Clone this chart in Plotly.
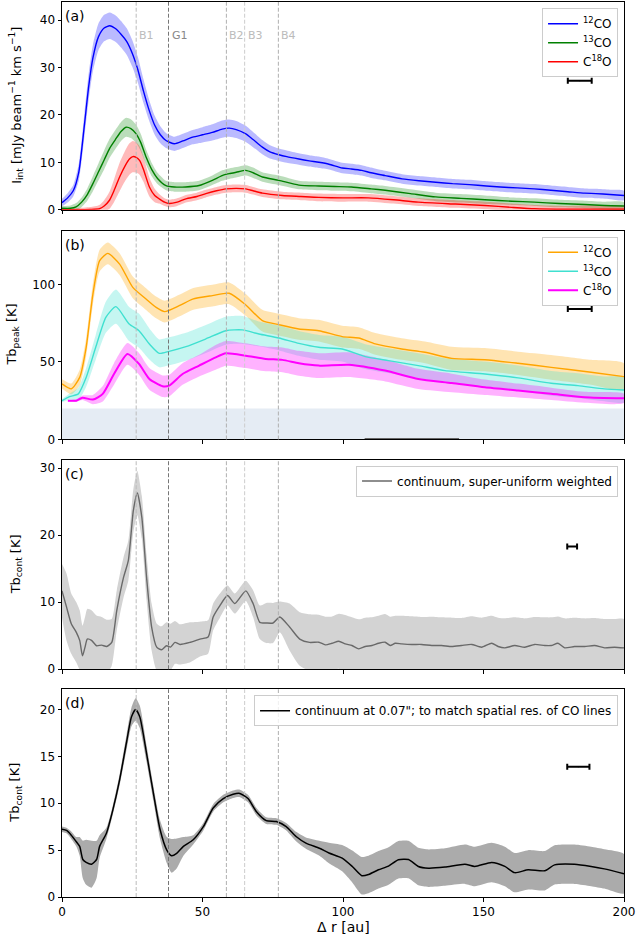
import plotly.graph_objects as go

# ring positions [au]
ring_names = ["B1", "G1", "B2", "B3", "B4"]
ring_r = [26.4, 37.9, 58.5, 65.0, 77.0]
ring_colors = ["#bbbbbb", "#777777", "#b0b0b0", "#cccccc", "#b0b0b0"]

# (a) integrated intensity [mJy/beam km/s]
r_12a = [0, 2, 4, 6, 8, 9.5, 11, 13, 15, 17,
         19, 21, 23, 25, 27, 29, 31, 33, 35, 37,
         40, 43, 46.5, 50, 53.5, 57, 59.5, 62, 65.4, 68,
         71.3, 74, 77.2, 80, 84.3, 88, 91.4, 95, 99.7, 103,
         106.7, 110, 115, 121, 127, 133, 139, 145, 151, 156,
         162, 168, 174, 180, 186, 190, 195, 200]
i_12a = [1.5, 2.5, 4.0, 8, 18, 26, 32, 36.5, 38.3, 38.8,
         38.2, 37, 35.5, 33, 29.5, 25, 21, 17.8, 15.8, 14.6,
         13.9, 14.5, 15.3, 15.8, 16.3, 17.0, 17.2, 16.9, 16.0, 14.8,
         13.2, 12.2, 11.6, 11.2, 10.7, 10.3, 10.0, 9.6, 8.8, 8.6,
         8.3, 7.8, 7.2, 6.5, 6.1, 5.8, 5.5, 5.3, 5.0, 4.8,
         4.6, 4.4, 4.1, 3.8, 3.5, 3.4, 3.2, 3.0]
e_12a = [0.8, 1.0, 1.2, 1.8, 2.5, 2.8, 2.8, 2.8, 2.8, 2.8,
         2.8, 2.8, 2.8, 2.8, 2.7, 2.5, 2.2, 2.0, 1.8, 1.6,
         1.5, 1.5, 1.5, 1.6, 1.7, 1.8, 1.8, 1.8, 1.7, 1.6,
         1.5, 1.4, 1.3, 1.3, 1.2, 1.2, 1.2, 1.1, 1.1, 1.1,
         1.1, 1.1, 1.0, 1.0, 1.0, 1.0, 1.0, 1.0, 1.0, 1.0,
         1.0, 1.0, 1.0, 1.0, 1.0, 1.0, 1.0, 1.0]

r_13a = [0, 3, 5, 7, 9, 11, 13, 15, 17, 19,
         21, 22.8, 24.5, 26.4, 28, 30, 32, 34, 37, 40,
         44, 48.8, 53.5, 57, 59.5, 62, 65.4, 68, 71.3, 77.2,
         84.3, 91.4, 97, 103, 110, 115, 124, 133, 142, 150.5,
         160, 168, 177, 186, 193, 200]
i_13a = [0.3, 0.3, 0.6, 1.6, 3.2, 5.5, 8.0, 10.5, 13.0, 14.8,
         16.5, 17.4, 17.1, 16.0, 14.2, 11.0, 8.4, 6.6, 5.1, 4.8,
         4.8, 5.1, 6.2, 7.2, 7.6, 7.9, 8.3, 7.8, 6.9, 6.2,
         5.2, 5.0, 4.9, 4.8, 4.4, 4.1, 3.4, 2.7, 2.4, 2.1,
         1.8, 1.6, 1.3, 1.1, 0.9, 0.8]
e_13a = [0.5, 0.6, 0.8, 1.0, 1.3, 1.6, 1.8, 2.0, 2.0, 2.0,
         2.0, 2.0, 2.0, 1.9, 1.8, 1.6, 1.4, 1.2, 1.0, 1.0,
         1.0, 1.0, 1.0, 1.1, 1.1, 1.1, 1.1, 1.1, 1.0, 1.0,
         0.9, 0.9, 0.9, 0.9, 0.9, 0.9, 0.9, 0.9, 0.9, 0.9,
         0.8, 0.8, 0.8, 0.8, 0.8, 0.8]

r_18a = [0, 5, 10, 13.3, 15, 16.9, 18.5, 20.5, 22.5, 24,
         25.2, 26.5, 27.6, 29, 31.1, 33, 34.6, 36.5, 38.1, 41,
         44.1, 48, 51.2, 55, 58.3, 62, 65.4, 68, 71.3, 78.4,
         85, 91.4, 100, 109, 118, 126.8, 140, 150.5, 160, 168.2,
         180, 200]
i_18a = [0.0, 0.0, 0.05, 0.2, 0.8, 2.0, 4.0, 6.9, 9.3, 10.7,
         11.2, 11.0, 10.4, 8.5, 4.8, 3.0, 2.3, 1.6, 1.3, 1.6,
         2.3, 2.8, 3.4, 4.0, 4.4, 4.5, 4.4, 4.0, 3.5, 3.0,
         2.8, 2.6, 2.5, 2.5, 2.1, 1.6, 1.2, 0.9, 0.5, 0.2,
         0.1, 0.1]
e_18a = [0.2, 0.3, 0.5, 0.8, 1.2, 1.8, 2.4, 3.0, 3.2, 3.3,
         3.3, 3.2, 3.0, 2.6, 2.0, 1.4, 1.0, 0.8, 0.8, 0.8,
         0.8, 0.8, 0.8, 0.8, 0.8, 0.8, 0.8, 0.8, 0.8, 0.8,
         0.8, 0.8, 0.8, 0.8, 0.8, 0.8, 0.8, 0.8, 0.8, 0.8,
         0.7, 0.6]

# (b) peak brightness temperature [K]
r_12b = [0, 3.3, 6.3, 8.6, 11, 13.4, 16.3, 20.5, 25.2, 29.9,
         33.5, 36.5, 41.7, 46.5, 53.5, 59.5, 65.4, 71.3, 77.2, 84.3,
         91.4, 99.7, 105.6, 111.5, 120.9, 129.2, 138.7, 150.5, 162.3, 174.1,
         188.3, 200]
t_12b = [35.8, 32.6, 40.0, 59.4, 93.7, 115.2, 119.9, 113.0, 98.0, 90.5,
         85.1, 82.4, 86.2, 90.5, 92.7, 94.2, 86.7, 76.6, 74.0, 71.2,
         70.1, 66.3, 65.4, 61.6, 58.3, 56.2, 52.3, 51.4, 49.1, 46.5,
         43.3, 40.5]
e_12b = [3, 3.5, 5, 6, 7, 7, 7, 7, 7, 7,
         7, 7, 7, 7, 7, 7, 7, 7, 7, 7,
         7, 7, 7, 7, 7, 7, 7.5, 7.5, 7.5, 8,
         8, 8.5]

r_13b = [0, 2.7, 5.8, 8.6, 12, 15.6, 19.2, 23.9, 27.4, 31.1,
         34.6, 38.1, 44.1, 51.2, 58.3, 64.2, 70.1, 77.2, 84.3, 91.4,
         99.7, 107.9, 116.2, 126.8, 136.3, 150.5, 162.3, 174.1, 183.6, 193,
         200]
t_13b = [25.0, 27.6, 29.4, 40.0, 59.4, 78.7, 85.6, 74.4, 70.1, 61.5,
         55.5, 56.8, 59.8, 64.8, 70.1, 70.6, 68.0, 65.4, 61.9, 59.4,
         58.3, 53.4, 50.8, 47.6, 44.4, 42.2, 39.7, 36.2, 34.7, 32.6,
         31.9]
e_13b = [1, 2, 4, 6, 8, 10, 11, 11, 11, 10,
         9, 9, 9, 9, 9, 9, 8, 8, 8, 8,
         8, 8, 8, 8, 8, 8, 8, 8, 8, 8,
         8]

r_18b = [2.1, 5, 7.3, 11, 14.5, 18.5, 23.3, 27.4, 31.1, 35.8,
         38.1, 42.9, 48.8, 54.7, 58.3, 65.4, 72.5, 78.4, 84.3, 91.4,
         102.1, 115, 126.8, 138.7, 150.5, 162.3, 174.1, 186, 200]
t_18b = [25.0, 25.0, 26.9, 25.7, 29.4, 42.2, 55.1, 48.7, 39.0, 34.3,
         34.7, 42.2, 47.6, 52.9, 55.5, 54.0, 51.9, 51.3, 49.1, 47.6,
         48.2, 44.4, 39.0, 36.4, 33.6, 31.5, 29.4, 27.2, 26.5]
e_18b = [0.5, 0.8, 1.5, 3, 5, 7, 7, 7, 7, 7,
         7, 7, 7, 8, 8, 8, 8, 8, 8, 8,
         8, 7, 6.5, 6, 5, 4.5, 4, 3.5, 3]

noise_level = 20
seg_r = [107.7, 141.3]
seg_t = [0.4, 0.4]

# (c) continuum, super-uniform weighting [K]
r_c = [0, 1.6, 3.3, 5.1, 6.3, 7.3, 8.2, 9.0, 10.5, 12.3,
       14.1, 15.9, 17.7, 19.5, 21.9, 23.6, 25.4, 26.8, 28.4, 30.1,
       31.9, 33.7, 35.4, 37.2, 38.6, 40.2, 42, 45.5, 49.1, 52,
       53.8, 56.2, 58.9, 61.5, 65.4, 68, 70.4, 72.7, 75.1, 77.5,
       81, 84.6, 88.1,
       91.4, 93.7, 96.1, 98.5, 100.8, 103.2, 105.6, 107.9, 110.3, 112.7,
       115.0, 116.8, 118.6, 120.9, 124.5, 128.0, 131.6, 135.1, 138.7, 142.2,
       145.8, 149.3, 152.9, 155.2, 157.6, 161.1, 164.7, 168.2, 171.8, 174.1,
       176.5, 178.9, 182.4, 186.0, 189.5, 193.1, 196.6, 200]
t_c = [11.7, 9.3, 6.8, 5.5, 4.3, 2.0, 3.3, 4.5, 4.3, 3.5,
       3.6, 3.4, 4.0, 8.8, 13.7, 16.2, 23.7, 26.3, 22.7, 13.7,
       6.3, 3.3, 2.9, 3.5, 3.3, 4.0, 3.7, 4.0, 4.5, 4.8,
       7.8, 9.5, 11.0, 9.8, 11.7, 9.8, 7.0, 6.9, 6.9, 7.8,
       6.3, 4.5, 4.0,
       4.03, 3.64, 3.88, 4.18, 3.79, 3.54, 3.04, 3.39, 3.54, 3.88,
       4.03, 3.54, 3.88, 3.79, 3.70, 3.70, 3.54, 3.54, 3.39, 3.54,
       3.70, 3.29, 3.88, 3.39, 3.19, 3.54, 3.29, 3.70, 3.54, 3.54,
       3.88, 3.19, 3.39, 3.39, 3.54, 3.19, 3.29, 3.19]
e_c = [4.0, 5.0, 4.5, 4.5, 4.5, 4.5, 4.5, 4.5, 4.5, 4.5,
       4.2, 4.0, 3.5, 3.0, 3.0, 3.0, 3.2, 3.3, 3.2, 3.4,
       3.5, 3.5, 3.5, 3.5, 3.5, 3.2, 3.0, 3.0, 2.6, 2.5,
       2.0, 1.8, 1.5, 1.5, 1.5, 2.0, 2.5, 3.0, 3.0, 2.3,
       3.5, 4.0, 4.2,
       4.1, 4.2, 4.0, 4.1, 4.3, 4.2, 4.4, 4.3, 4.2, 4.1,
       4.2, 4.3, 4.1, 4.2, 4.2, 4.1, 4.3, 4.2, 4.3, 4.1,
       4.2, 4.4, 4.1, 4.3, 4.4, 4.2, 4.3, 4.1, 4.2, 4.2,
       4.0, 4.4, 4.3, 4.2, 4.1, 4.3, 4.2, 4.3]

# (d) continuum at 0.07" [K]
r_d = [0, 1.6, 3.3, 5.1, 6.3, 7.4, 8.6, 10.5, 12.3, 13.4,
       15.8, 18.1, 20.5, 22.9, 24.7, 26.2, 27.7, 30.1, 32.5, 34.9,
       37.3, 39, 40.8, 43.2, 46.7, 50.3, 53.8, 57.4, 60.9, 63.3,
       66.2, 69.2, 72.7, 76.3, 79.8, 83.3, 86.8, 91.6, 95, 99.7,
       103.3, 106.7, 109.1, 112.6, 116.2, 119.7, 123.3, 126.8, 130.4, 136.3,
       143.4, 146.9, 152.9, 157.6, 161.1, 165.9, 171.8, 175.3, 182.4, 188.3,
       193, 200]
t_d = [7.23, 7.1, 6.6, 5.9, 5.4, 4.0, 3.7, 3.5, 4.0, 5.4,
       6.8, 9.3, 12.5, 16.4, 19.2, 20.0, 19.2, 15.3, 11.1, 7.2,
       5.0, 4.4, 4.65, 5.4, 6.1, 7.5, 9.5, 10.5, 10.96, 11.05,
       10.5, 9.1, 8.15, 8.05, 7.5, 6.45, 5.75, 5.2, 4.7, 4.15,
       3.26, 2.27, 2.4, 2.9, 3.3, 3.97, 4.0, 3.26, 3.08, 3.2,
       3.5, 3.26, 3.68, 3.26, 2.6, 2.9, 2.8, 3.43, 3.5, 3.26,
       3.0, 2.48]
e_d = [0.3, 0.3, 0.4, 0.5, 1.0, 2.0, 2.4, 2.5, 2.0, 1.2,
       0.6, 0.5, 0.6, 0.8, 1.0, 1.2, 1.2, 0.9, 0.8, 1.0,
       1.4, 1.8, 1.6, 1.0, 0.5, 0.4, 0.4, 0.4, 0.4, 0.4,
       0.4, 0.4, 0.35, 0.35, 0.4, 0.5, 0.6, 0.8, 1.1, 1.4,
       1.7, 2.0, 2.0, 2.0, 2.0, 2.0, 2.0, 2.0, 2.0, 2.0,
       2.1, 2.1, 2.1, 2.1, 2.1, 2.1, 2.1, 2.1, 2.1, 2.1,
       2.1, 2.1]

# beam size bars (centre, half width, height) per panel
beam_r = [184.25, 184.25, 181.55, 183.75]
beam_half = [4.25, 4.25, 1.75, 3.95]
beam_y = [27.2, 84.1, 18.3, 13.9]

FONT = "DejaVu Sans"
fig = go.Figure()


def add_band(x, y, err, fill, ax):
    up = [v + e for v, e in zip(y, err)]
    lo = [v - e for v, e in zip(y, err)]
    fig.add_trace(go.Scatter(
        x=x + x[::-1], y=up + lo[::-1], fill="toself", fillcolor=fill,
        mode="lines", line=dict(width=0, shape="spline", smoothing=0.6),
        showlegend=False, hoverinfo="skip", xaxis="x" + ax, yaxis="y" + ax))


def add_line(x, y, color, name, width, ax, legend):
    fig.add_trace(go.Scatter(
        x=x, y=y, mode="lines", name=name,
        line=dict(color=color, width=width, shape="spline", smoothing=0.6),
        xaxis="x" + ax, yaxis="y" + ax, legend=legend, hoverinfo="skip"))


# panel (a)
add_band(r_12a, i_12a, e_12a, "rgba(0,0,255,0.27)", "")
add_band(r_13a, i_13a, e_13a, "rgba(0,128,0,0.27)", "")
add_band(r_18a, i_18a, e_18a, "rgba(255,0,0,0.27)", "")
add_line(r_12a, i_12a, "#0000ff", "<sup>12</sup>CO", 1.4, "", "legend")
add_line(r_13a, i_13a, "#008000", "<sup>13</sup>CO", 1.4, "", "legend")
add_line(r_18a, i_18a, "#ff0000", "C<sup>18</sup>O", 1.4, "", "legend")

# panel (b)
fig.add_trace(go.Scatter(x=[0, 200], y=[noise_level, noise_level], mode="lines",
                         line=dict(width=0), fill="tozeroy",
                         fillcolor="rgba(176,196,222,0.33)", showlegend=False,
                         hoverinfo="skip", xaxis="x2", yaxis="y2"))
add_band(r_12b, t_12b, e_12b, "rgba(255,165,0,0.3)", "2")
add_band(r_13b, t_13b, e_13b, "rgba(64,224,208,0.3)", "2")
add_band(r_18b, t_18b, e_18b, "rgba(255,0,255,0.3)", "2")
add_line(r_12b, t_12b, "#ffa500", "<sup>12</sup>CO", 1.4, "2", "legend2")
add_line(r_13b, t_13b, "#40e0d0", "<sup>13</sup>CO", 1.4, "2", "legend2")
add_line(r_18b, t_18b, "#ff00ff", "C<sup>18</sup>O", 2.0, "2", "legend2")
fig.add_trace(go.Scatter(x=seg_r, y=seg_t, mode="lines", line=dict(color="#666666", width=1.5),
                         showlegend=False, hoverinfo="skip", cliponaxis=False,
                         xaxis="x2", yaxis="y2"))

# panel (c)
add_band(r_c, t_c, e_c, "#d3d3d3", "3")
add_line(r_c, t_c, "#696969", "continuum, super-uniform weighted", 1.4, "3", "legend3")

# panel (d)
add_band(r_d, t_d, e_d, "#ababab", "4")
add_line(r_d, t_d, "#000000", "continuum at 0.07\"; to match spatial res. of CO lines", 1.5, "4", "legend4")

# beam bars
for k, ax in enumerate(["", "2", "3", "4"]):
    fig.add_trace(go.Scatter(
        x=[beam_r[k]], y=[beam_y[k]], mode="markers", marker=dict(size=1, color="black"),
        error_x=dict(type="data", array=[beam_half[k]], color="black", thickness=2, width=3),
        showlegend=False, hoverinfo="skip", xaxis="x" + ax, yaxis="y" + ax))

domains = [[0.7679, 1.0], [0.5112, 0.7444], [0.2545, 0.4888], [0.0, 0.2321]]
yranges = [[0, 43.8], [0, 134.5], [0, 31.3], [0, 22.16]]
yticks = [[0, 10, 20, 30, 40], [0, 50, 100], [0, 10, 20, 30], [0, 5, 10, 15, 20]]
ytitles = ["I<sub>int</sub> [mJy beam<sup>\u22121</sup> km s<sup>\u22121</sup>]",
           "Tb<sub>peak</sub> [K]", "Tb<sub>cont</sub> [K]", "Tb<sub>cont</sub> [K]"]
ytitle_x = [16, 12.5, 16, 15.5]
panel_tags = ["(a)", "(b)", "(c)", "(d)"]
legend_top = [0.993, 0.7377, 0.4821, 0.2254]

axis_style = dict(showline=True, linecolor="black", linewidth=1, mirror=True,
                  ticks="outside", ticklen=3.5, tickwidth=1, tickcolor="black",
                  showgrid=False, zeroline=False, ticklabeloverflow="allow",
                  tickfont=dict(family=FONT, size=12, color="black"))

layout = dict(width=636, height=938, margin=dict(l=62, r=10, t=1, b=41),
              paper_bgcolor="white", plot_bgcolor="white",
              font=dict(family=FONT, size=12, color="black"))

shapes = []
annotations = []
for k, ax in enumerate(["", "2", "3", "4"]):
    layout["xaxis" + ax] = dict(axis_style, domain=[0, 1], range=[0, 200],
                                tickvals=[0, 50, 100, 150, 200], anchor="y" + ax,
                                showticklabels=(k == 3))
    layout["yaxis" + ax] = dict(axis_style, domain=domains[k], range=yranges[k],
                                tickvals=yticks[k], anchor="x" + ax)
    leg = dict(x=0.9894, y=legend_top[k], xanchor="right", yanchor="top",
               bordercolor="#cccccc", borderwidth=1, bgcolor="rgba(255,255,255,0.8)",
               font=dict(family=FONT, size=12, color="black"), itemwidth=30,
               tracegroupgap=0)
    layout["legend" + ax] = leg
    for name, r, col in zip(ring_names, ring_r, ring_colors):
        shapes.append(dict(type="line", xref="x" + ax, yref="y" + ax + " domain",
                           x0=r, x1=r, y0=0, y1=1, layer="above",
                           line=dict(color=col, width=1, dash="4px,2px")))
    annotations.append(dict(text=panel_tags[k], xref="x" + ax + " domain",
                            yref="y" + ax + " domain", x=0, y=1, xanchor="left",
                            yanchor="top", xshift=1, yshift=-4, showarrow=False,
                            font=dict(family=FONT, size=14, color="black")))
    annotations.append(dict(text=ytitles[k], xref="paper", yref="paper",
                            x=0, y=sum(domains[k]) / 2, xanchor="center",
                            yanchor="middle", xshift=ytitle_x[k] - 62,
                            textangle=-90, showarrow=False,
                            font=dict(family=FONT, size=13, color="black")))

for name, r, col in zip(ring_names, ring_r, ring_colors):
    annotations.append(dict(text=name, xref="x", yref="y domain", x=r, y=0.837,
                            xanchor="left", yanchor="middle", xshift=1,
                            showarrow=False,
                            font=dict(family=FONT, size=11,
                                      color="#888888" if name == "G1" else "#bbbbbb")))

annotations.append(dict(text="\u0394 r [au]", xref="paper", yref="paper", x=0.5, y=0,
                        xanchor="center", yanchor="middle", yshift=-30,
                        showarrow=False, font=dict(family=FONT, size=14, color="black")))

layout["shapes"] = shapes
layout["annotations"] = annotations
fig.update_layout(**layout)

fig.write_html("out.html", config={"displayModeBar": False},
               post_script="document.body.style.margin='0px';"
                           "document.body.style.overflow='hidden';")
